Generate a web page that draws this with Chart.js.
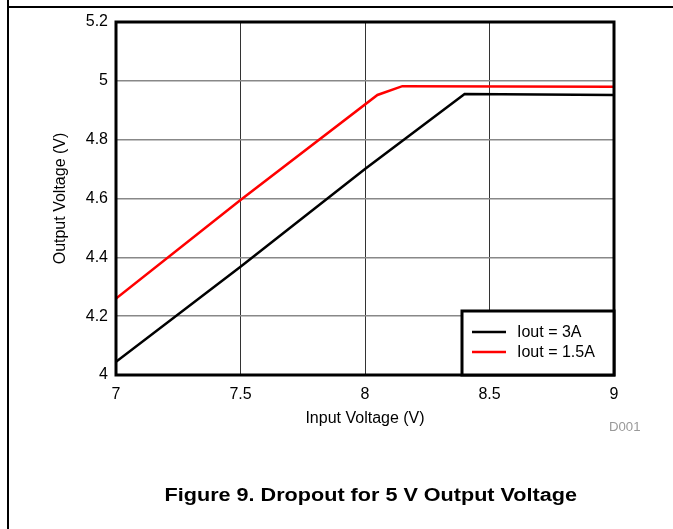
<!DOCTYPE html>
<html>
<head>
<meta charset="utf-8">
<script src="https://cdn.jsdelivr.net/npm/chart.js@4"></script>
<style>
  html, body { margin: 0; padding: 0; background: #fff; }
  body { width: 673px; height: 529px; position: relative; overflow: hidden; font-family: "Liberation Sans", Arial, sans-serif; }
  #wrap { position: absolute; left: 0; top: 0; width: 673px; height: 529px; }
  .rule-top { position: absolute; left: 8px; top: 6px; width: 665px; height: 2px; background: #000; }
  .rule-left { position: absolute; left: 7px; top: 0; width: 2px; height: 529px; background: #000; }
  .tag { position: absolute; left: 609px; top: 420px; font-size: 12px; color: #999; transform: scaleX(1.1); transform-origin: 0 0; }
  .caption { position: absolute; left: 0; width: 743px; top: 485px; text-align: center; font-size: 18px; font-weight: bold; color: #000; transform: scaleX(1.2); transform-origin: 0 0; }
  .caption-box { position: absolute; left: 0; top: 0; width: 673px; height: 529px; overflow: hidden; }
</style>
</head>
<body>
<div class="rule-top"></div>
<div class="rule-left"></div>
<div id="wrap"><canvas id="dropoutChart" width="673" height="529"></canvas></div>
<div class="tag">D001</div>
<div class="caption-box"><div class="caption" style="left:-75px">Figure 9. Dropout for 5 V Output Voltage</div></div>
<script>
// values
const vin3A = [7, 7.5, 8, 8.4, 9];
const vout3A = [4.045, 4.368, 4.70, 4.955, 4.952];
const vin15A = [7, 7.5, 8.05, 8.15, 9];
const vout15A = [4.26, 4.595, 4.952, 4.982, 4.98];

const xTickLabels = ['7', '7.5', '8', '8.5', '9'];
const xTickValues = [7, 7.5, 8, 8.5, 9];
const yTickLabels = ['4', '4.2', '4.4', '4.6', '4.8', '5', '5.2'];
const yTickValues = [4, 4.2, 4.4, 4.6, 4.8, 5, 5.2];

const FONT = '"Liberation Sans", Arial, sans-serif';

function pts(xs, ys) {
  return xs.map((x, i) => ({ x: x, y: ys[i] }));
}

function labelFor(values, labels, v) {
  const i = values.findIndex(t => Math.abs(t - v) < 1e-6);
  return i >= 0 ? labels[i] : '';
}

// frame round the plot area
const frame = {
  id: 'frame',
  afterDatasetsDraw(chart) {
    const a = chart.chartArea;
    const c = chart.ctx;
    c.save();
    c.strokeStyle = '#000';
    c.lineWidth = 3;
    c.strokeRect(a.left, a.top, a.right - a.left, a.bottom - a.top);
    c.restore();
  }
};

// boxed legend in the lower right corner
const boxLegend = {
  id: 'boxLegend',
  afterDraw(chart) {
    const a = chart.chartArea;
    const c = chart.ctx;
    const w = 152, h = 64;
    const x0 = a.right - w, y0 = a.bottom - h;
    c.save();
    c.fillStyle = '#fff';
    c.fillRect(x0, y0, w, h);
    c.strokeStyle = '#000';
    c.lineWidth = 3;
    c.strokeRect(x0, y0, w, h);
    c.font = '16px ' + FONT;
    c.textBaseline = 'middle';
    chart.data.datasets.forEach((ds, i) => {
      const y = y0 + 21 + i * 20;
      c.strokeStyle = ds.borderColor;
      c.lineWidth = 2.5;
      c.beginPath();
      c.moveTo(x0 + 10, y);
      c.lineTo(x0 + 44, y);
      c.stroke();
      c.fillStyle = '#000';
      c.fillText(ds.label, x0 + 55, y + 1);
    });
    c.restore();
  }
};

const ctx = document.getElementById('dropoutChart').getContext('2d');
new Chart(ctx, {
  type: 'line',
  data: {
    datasets: [
      {
        label: 'Iout = 3A',
        data: pts(vin3A, vout3A),
        borderColor: '#000000',
        borderWidth: 2.5,
        pointRadius: 0,
        tension: 0
      },
      {
        label: 'Iout = 1.5A',
        data: pts(vin15A, vout15A),
        borderColor: '#ff0000',
        borderWidth: 2.5,
        pointRadius: 0,
        tension: 0
      }
    ]
  },
  options: {
    responsive: false,
    animation: false,
    layout: { padding: { left: 51, top: 22, right: 59, bottom: 101 } },
    plugins: {
      legend: { display: false },
      tooltip: { enabled: false }
    },
    scales: {
      x: {
        type: 'linear',
        min: 7,
        max: 9,
        afterBuildTicks: s => { s.ticks = xTickValues.map(v => ({ value: v })); },
        afterFit: s => { s.height = 53; },
        border: { display: false },
        grid: { color: '#333', lineWidth: 1, drawTicks: false },
        ticks: {
          padding: 10,
          color: '#000',
          font: { family: FONT, size: 16 },
          callback: v => labelFor(xTickValues, xTickLabels, v)
        },
        title: {
          display: true,
          text: 'Input Voltage (V)',
          color: '#000',
          font: { family: FONT, size: 16 },
          padding: { top: 0, bottom: 0 }
        }
      },
      y: {
        type: 'linear',
        min: 4,
        max: 5.2,
        afterBuildTicks: s => { s.ticks = yTickValues.map(v => ({ value: v })); },
        afterFit: s => { s.width = 65; },
        border: { display: false },
        grid: { color: '#888', lineWidth: 1.5, drawTicks: false },
        ticks: {
          padding: 8,
          color: '#000',
          font: { family: FONT, size: 16 },
          callback: v => labelFor(yTickValues, yTickLabels, v)
        },
        title: {
          display: true,
          text: 'Output Voltage (V)',
          color: '#000',
          font: { family: FONT, size: 16 },
          padding: { top: 0, bottom: 0 }
        }
      }
    }
  },
  plugins: [frame, boxLegend]
});
</script>
</body>
</html>
